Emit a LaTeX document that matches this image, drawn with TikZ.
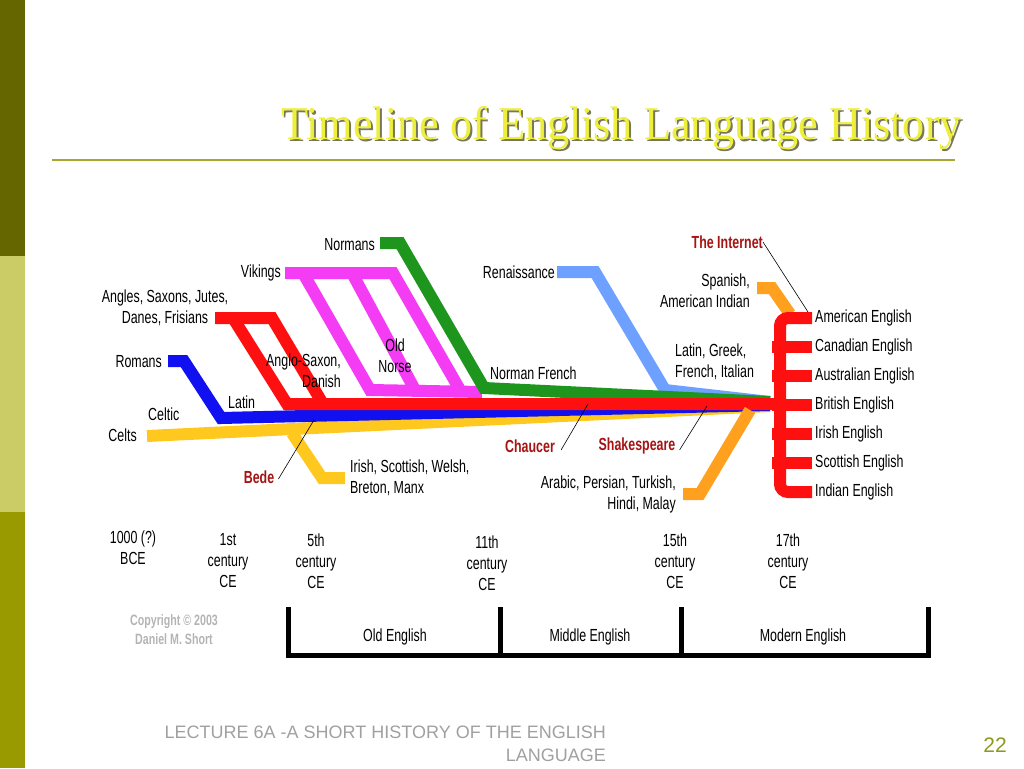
\documentclass[tikz,border=0pt]{standalone}
\usepackage{fontspec}
\setmainfont{Liberation Serif}
\setsansfont{Liberation Sans}
\newfontfamily\narrowsans[FakeStretch=0.71]{Liberation Sans}
\newfontfamily\titleserif[FakeStretch=0.94]{Liberation Serif}
\usepackage{xcolor}
\usetikzlibrary{positioning, calc}

\definecolor{barDark}{HTML}{666600}
\definecolor{barLight}{HTML}{CCCC66}
\definecolor{barMid}{HTML}{999900}
\definecolor{ruleOlive}{HTML}{A8A830}
\definecolor{titleYellow}{HTML}{EEEE3C}
\definecolor{titleShade}{HTML}{77775A}
\definecolor{lineRed}{HTML}{FF1010}
\definecolor{lineBlue}{HTML}{1010F0}
\definecolor{lineYellow}{HTML}{FFC81E}
\definecolor{lineMagenta}{HTML}{F53CF5}
\definecolor{lineGreen}{HTML}{1E961E}
\definecolor{lineSky}{HTML}{6EA0FF}
\definecolor{lineOrange}{HTML}{FFA01E}
\definecolor{eventRed}{HTML}{A51414}
\definecolor{footGray}{HTML}{A0A0A0}
\definecolor{copyGray}{HTML}{B4B4B4}
\definecolor{pageOlive}{HTML}{8C9A1E}

\begin{document}
\begin{tikzpicture}[
        x=1pt, y=-1pt,
        lang/.style = {
            line width=12,
            line join=miter,
            line cap=butt
        },
        lbl/.style = {
            inner sep=0pt,
            align=center,
            font=\narrowsans\fontsize{17.5}{21}\selectfont
        },
        event/.style = {
            lbl,
            text=eventRed,
            font=\narrowsans\bfseries\fontsize{17.5}{21}\selectfont
        },
        pointer/.style = {
            draw=black,
            line width=0.6
        },
        era/.style = {
            draw=black,
            line width=5,
            line join=miter
        }
    ]

    \useasboundingbox (0,0) rectangle (1024,768);

    \fill[barDark] (0,0) rectangle (25,256);
    \fill[barLight] (0,256) rectangle (25,512);
    \fill[barMid] (0,512) rectangle (25,768);

    \node[font=\titleserif\fontsize{47}{52}\selectfont, text=titleShade] (titleshade) at (623.5,130) {Timeline of English Language History};
    \node[font=\titleserif\fontsize{47}{52}\selectfont, text=titleYellow] (title) at (621.5,128) {Timeline of English Language History};
    \draw[ruleOlive, line width=2] (52,160) -- (955,160);

    \draw[lang, lineYellow] (147,436) -- (770,406);
    \draw[lang, lineYellow] (292,433) -- (322,478) -- (345,478);
    \draw[lang, lineBlue] (168,361) -- (184,361) -- (221,418) -- (770,405);
    \draw[lang, lineSky] (557,272) -- (595,272) -- (665,390) -- (770,402);
    \draw[lang, lineMagenta] (285,273) -- (393,273) -- (460,390);
    \draw[lang, lineMagenta] (303,273) -- (370,390) -- (482,392);
    \draw[lang, lineMagenta] (352,273) -- (415,390);
    \draw[lang, lineGreen] (380,243) -- (400,243) -- (484,388) -- (770,402);
    \draw[lang, lineRed] (215,318) -- (272,318) -- (323,404);
    \draw[lang, lineRed] (233,318) -- (287,404) -- (780,404);
    \draw[lang, lineOrange] (757,288) -- (772,288) -- (790,314);
    \draw[lang, lineOrange] (683,494) -- (700,494) -- (750,410);

    \draw[lang, lineRed, rounded corners=8] (812,318) -- (780,318) -- (780,492) -- (812,492);
    \foreach \y in {347,376,405,434,463}
        \draw[lang, lineRed, rounded corners=6] (772,\y) -- (812,\y);

    \node[lbl, anchor=east] (normans) at (375,245) {Normans};
    \node[lbl, anchor=east] (vikings) at (281,273) {Vikings};
    \node[lbl] (angles) at (165,308) {Angles, Saxons, Jutes,\\Danes, Frisians};
    \node[lbl, anchor=east] (romans) at (162,362) {Romans};
    \node[lbl, anchor=west] (celtic) at (148,414) {Celtic};
    \node[lbl, anchor=east] (celts) at (137,435) {Celts};
    \node[lbl, anchor=west] (latin) at (228,402) {Latin};
    \node[lbl, align=right, anchor=east] (anglosaxon) at (341,371) {Anglo-Saxon,\\Danish};
    \node[lbl] (oldnorse) at (395,356) {Old\\Norse};
    \node[lbl, anchor=west] (normanfrench) at (490,373) {Norman French};
    \node[lbl, anchor=east] (renaissance) at (555,272) {Renaissance};
    \node[event, anchor=east] (internet) at (763,242) {The Internet};
    \node[lbl, align=right, anchor=east] (spanish) at (750,291) {Spanish,\\American Indian};
    \node[lbl, align=left, anchor=west] (latingreek) at (675,362) {Latin, Greek,\\French, Italian};
    \node[event] (chaucer) at (530,446) {Chaucer};
    \node[event] (shakespeare) at (637,446) {Shakespeare};
    \node[event] (bede) at (259,477) {Bede};
    \node[lbl, align=left, anchor=west] (irish) at (350,478) {Irish, Scottish, Welsh,\\Breton, Manx};
    \node[lbl, align=right, anchor=east] (arabic) at (676,494) {Arabic, Persian, Turkish,\\Hindi, Malay};

    \node[lbl, anchor=west] (american) at (815,318) {American English};
    \node[lbl, anchor=west] (canadian) at (815,347) {Canadian English};
    \node[lbl, anchor=west] (australian) at (815,376) {Australian English};
    \node[lbl, anchor=west] (british) at (815,405) {British English};
    \node[lbl, anchor=west] (irisheng) at (815,434) {Irish English};
    \node[lbl, anchor=west] (scottish) at (815,463) {Scottish English};
    \node[lbl, anchor=west] (indian) at (815,492) {Indian English};

    \coordinate (internettip) at (808,312);
    \coordinate (bedetip) at (314,420);
    \coordinate (chaucertip) at (588,404);
    \coordinate (shakespearetip) at (707,406);
    \draw[pointer] (internet.east) -- (internettip);
    \draw[pointer] (bede.east) ++(4,2) -- (bedetip);
    \draw[pointer] (chaucer.east) ++(6,4) -- (chaucertip);
    \draw[pointer] (shakespeare.east) ++(4,4) -- (shakespearetip);

    \node[lbl] (bce) at (133,548) {1000 (?)\\BCE};
    \node[lbl] (first) at (228,561) {1st\\century\\CE};
    \node[lbl] (fifth) at (316,561) {5th\\century\\CE};
    \node[lbl] (eleventh) at (487,563) {11th\\century\\CE};
    \node[lbl] (fifteenth) at (675,561) {15th\\century\\CE};
    \node[lbl] (seventeenth) at (788,561) {17th\\century\\CE};
    \node[lbl, text=copyGray, font=\narrowsans\bfseries\fontsize{15}{19}\selectfont] (copyright) at (174,630) {Copyright \textcopyright{} 2003\\Daniel M. Short};

    \coordinate (oldstart) at (288,607);
    \coordinate (middlestart) at (500,607);
    \coordinate (modernstart) at (681,607);
    \coordinate (modernend) at (928,607);
    \draw[era] (oldstart) -- (288,655) -- (928,655) -- (modernend);
    \draw[era] (middlestart) -- (500,655);
    \draw[era] (modernstart) -- (681,655);
    \node[lbl] (oldeng) at (395,637) {Old English};
    \node[lbl] (middleeng) at (590,637) {Middle English};
    \node[lbl] (moderneng) at (803,637) {Modern English};

    \node[inner sep=0pt, align=right, anchor=north east, text=footGray, font=\sffamily\fontsize{18}{23}\selectfont] (footer) at (606,726) {LECTURE 6A -A SHORT HISTORY OF THE ENGLISH\\LANGUAGE};
    \node[inner sep=0pt, text=pageOlive, font=\sffamily\fontsize{21}{24}\selectfont] (pagenum) at (995,745) {22};

\end{tikzpicture}
\end{document}
